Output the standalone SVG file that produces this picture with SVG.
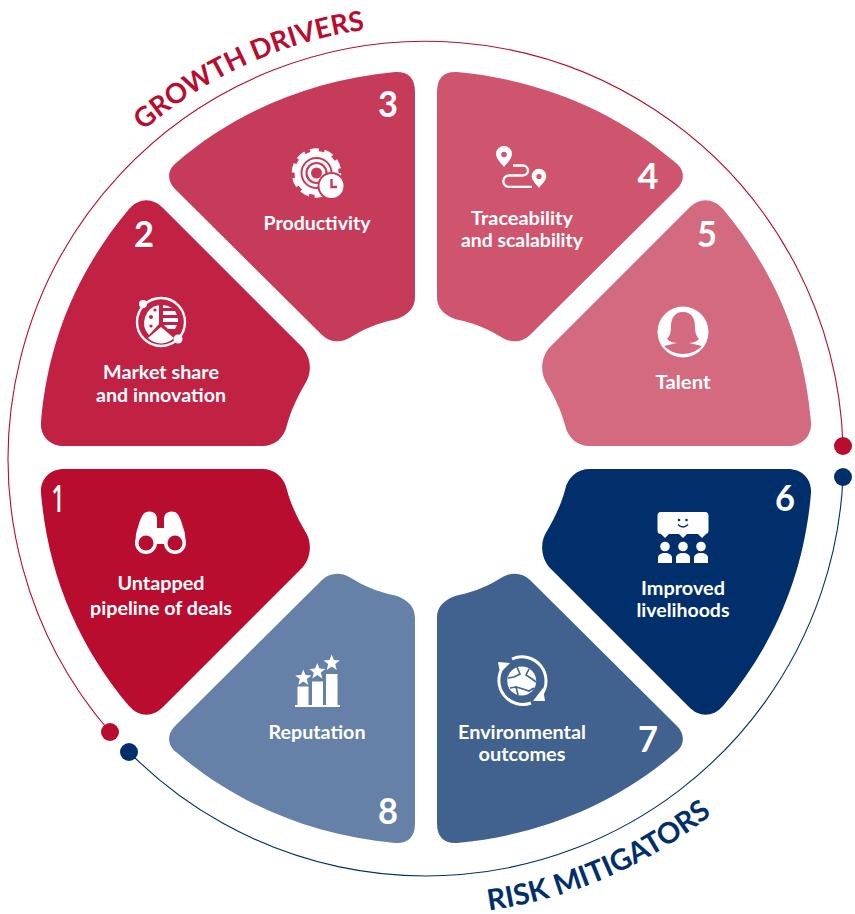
<svg xmlns="http://www.w3.org/2000/svg" xmlns:xlink="http://www.w3.org/1999/xlink" width="855" height="914" viewBox="0 0 855 914">
<style>
text{font-family:"Lato","Noto Sans",sans-serif;}
.lb{fill:#fff;font-size:18px;font-weight:700;text-anchor:middle;}
.nm{fill:#fff;font-size:37px;font-weight:700;text-anchor:middle;}
.w{fill:#fff;}
.ln{fill:none;stroke:#fff;}
.arcr{fill:none;stroke:#B80D2F;stroke-width:1.1;}
.arcb{fill:none;stroke:#002F6C;stroke-width:1.1;}
.h{font-weight:700;}
</style>
<defs>
<path id="tA" d="M395 72 Q415 71 415 92 L415 297 C415 310 405 317 393 320 C378 323 362 330 351 337 C342 343 330 343 322 335 L175 189 C167 181 167 170 176 163 C235 112 310 80 395 72 Z"/>
<path id="tB" d="M129 209 C140 197 153 198 163 208 L300 345 C311 355 313 372 305 384 C298 396 291 410 287 425 C284 438 275 446 262 446 L64 446 C50 446 40 436 41 422 C48 340 78 270 129 209 Z"/>
<path id="star" d="M0 -8.500 L2.200 -2.900 L8.100 -2.600 L3.500 1.100 L5 6.900 L0 3.600 L-5 6.900 L-3.500 1.100 L-8.100 -2.600 L-2.200 -2.900 Z"/>
<path id="pin" d="M0 12 C-2 9 -8 4 -8 -1 A8 8 0 0 1 8 -1 C8 4 2 9 0 12 Z"/>
<path id="bust" d="M-7 10 V5 C-7 1.500 -4 0 0 0 C4 0 7 1.500 7 5 V10 Z"/>
<path id="arcGD" d="M36.100 271.500 A432 432 0 0 1 541.400 41.200"/>
<path id="arcRM" d="M294.700 895.200 A456 456 0 0 0 834.300 662.800"/>
</defs>

<g id="connectors">
<path class="arcr" d="M110 732 A417.500 417.500 0 1 1 843 446"/>
<path class="arcb" d="M843 477 A417.500 417.500 0 0 1 129 752"/>
<circle cx="110" cy="732" r="9" fill="#B80D2F"/>
<circle cx="843" cy="446" r="9" fill="#B80D2F"/>
<circle cx="129" cy="752" r="9" fill="#002F6C"/>
<circle cx="843" cy="477" r="9" fill="#002F6C"/>
</g>

<g id="header-growth"><text class="h" font-size="27.500" fill="#B80D2F"><textPath href="#arcGD" startOffset="50%" text-anchor="middle">GROWTH DRIVERS</textPath></text></g>
<g id="header-risk"><text class="h" font-size="29" fill="#002F6C"><textPath href="#arcRM" startOffset="50%" text-anchor="middle">RISK MITIGATORS</textPath></text></g>

<g id="node-1">
<use href="#tB" fill="#B80D2F" transform="matrix(1 0 0 -1 0 915)"/>
<text class="nm" x="58" y="512" style="font-family:'Open Sans',sans-serif;font-size:38px;font-weight:600" textLength="13" lengthAdjust="spacingAndGlyphs">1</text>
<path class="w" d="M146 512 C152 510 157 513 157 519 V528 H164 V519 C164 513 169 510 175 512 C179 514 181 520 183 527 C185 532 186 538 185 544 L136 544 C135 538 136 532 138 527 C140 520 142 514 146 512 Z"/>
<circle class="w" cx="146" cy="543" r="11"/><circle class="w" cx="175" cy="543" r="11"/>
<rect class="w" x="155" y="530" width="11" height="9"/>
<circle cx="146" cy="543" r="7.500" fill="#B80D2F"/><circle cx="175" cy="543" r="7.500" fill="#B80D2F"/>
<text class="lb" x="161" y="590" textLength="87" lengthAdjust="spacingAndGlyphs">Untapped</text>
<text class="lb" x="161" y="615" textLength="142" lengthAdjust="spacingAndGlyphs">pipeline of deals</text>
</g>

<g id="node-2">
<use href="#tB" fill="#C12244"/>
<text class="nm" x="144" y="247" textLength="20" lengthAdjust="spacingAndGlyphs">2</text>
<circle class="ln" cx="161" cy="322" r="24" stroke-width="2.400"/>
<circle class="w" cx="143" cy="304" r="4"/><circle class="w" cx="178" cy="339" r="4.500"/>
<path class="w" d="M159 305 V324 L149 335 A18 18 0 0 1 159 305 Z"/>
<circle cx="151" cy="317" r="2" fill="#C12244"/><circle cx="155" cy="310" r="1.600" fill="#C12244"/><circle cx="151" cy="326" r="1.600" fill="#C12244"/>
<path class="w" d="M163 305 A18 18 0 0 1 172 308 H163 Z M163 311 H175 L177 315 H163 Z M163 318 H178 L178 322 H163 Z M164 325 H177 L175 329 H168 Z"/>
<path class="w" d="M161 327 L174 338 A18 18 0 0 1 148 338 Z"/>
<text class="lb" x="161" y="379" textLength="116" lengthAdjust="spacingAndGlyphs">Market share</text>
<text class="lb" x="161" y="402" textLength="130" lengthAdjust="spacingAndGlyphs">and innovation</text>
</g>

<g id="node-3">
<use href="#tA" fill="#C73B5A"/>
<text class="nm" x="388" y="117" textLength="20" lengthAdjust="spacingAndGlyphs">3</text>
<circle class="w" cx="316.500" cy="173" r="22"/>
<circle class="ln" cx="316.500" cy="173" r="23" stroke-width="3.500" stroke-dasharray="9 5.450"/>
<circle cx="316.500" cy="173" r="15" fill="none" stroke="#C73B5A" stroke-width="2"/>
<circle cx="316.500" cy="173" r="10" fill="none" stroke="#C73B5A" stroke-width="2.200"/>
<circle cx="316.500" cy="173" r="5.500" fill="#C73B5A"/>
<circle class="w" cx="331.500" cy="186" r="13" stroke="#C73B5A" stroke-width="2"/>
<path d="M331.500 179 V187 H337" fill="none" stroke="#C73B5A" stroke-width="2.400"/>
<text class="lb" x="317" y="230" textLength="107" lengthAdjust="spacingAndGlyphs">Productivity</text>
</g>

<g id="node-4">
<use href="#tA" fill="#CF546E" transform="matrix(-1 0 0 1 852 0)"/>
<text class="nm" x="648" y="189" textLength="21" lengthAdjust="spacingAndGlyphs">4</text>
<use class="w" href="#pin" transform="translate(504 155)"/>
<circle cx="504" cy="154.500" r="2.800" fill="#CF546E"/>
<use class="w" href="#pin" transform="translate(539 177) scale(.92)"/>
<circle cx="539" cy="176.500" r="2.600" fill="#CF546E"/>
<path class="ln" stroke-width="2.300" d="M513 165.500 H523 a5 5 0 0 1 0 10 H509 a5.700 5.700 0 0 0 0 11.400 H532"/>
<text class="lb" x="522" y="225" textLength="102" lengthAdjust="spacingAndGlyphs">Traceability</text>
<text class="lb" x="522" y="247" textLength="122" lengthAdjust="spacingAndGlyphs">and scalability</text>
</g>

<g id="node-5">
<use href="#tB" fill="#D46A80" transform="matrix(-1 0 0 1 852 0)"/>
<text class="nm" x="707" y="247" textLength="20" lengthAdjust="spacingAndGlyphs">5</text>
<circle class="w" cx="683" cy="332" r="25.500"/>
<path fill="#D46A80" d="M683 312 C674 312 671 319 671 327 C671 332 670 336 667 339 C670 342 674 343 677 343 L664 346 C669 351 676 354 683 354 C690 354 697 351 702 346 L689 343 C692 343 696 342 699 339 C696 336 695 332 695 327 C695 319 692 312 683 312 Z"/>
<text class="lb" x="683" y="389" textLength="55" lengthAdjust="spacingAndGlyphs">Talent</text>
</g>

<g id="node-6">
<use href="#tB" fill="#002F6C" transform="matrix(-1 0 0 -1 852 915)"/>
<text class="nm" x="785" y="511" textLength="20" lengthAdjust="spacingAndGlyphs">6</text>
<path class="w" d="M661 512 H705 a3.500 3.500 0 0 1 3.500 3.500 V530.500 a3.500 3.500 0 0 1 -3.500 3.500 H706 L702 538 L698 534 H687 L683 538 L679 534 H669 L665 538 L661 534 a3.500 3.500 0 0 1 -3.500 -3.500 V515.500 a3.500 3.500 0 0 1 3.500 -3.500 Z"/>
<circle cx="679" cy="520" r="1.300" fill="#002F6C"/><circle cx="686.500" cy="520" r="1.300" fill="#002F6C"/>
<path d="M678 524.500 Q683 529.500 688 524.500" fill="none" stroke="#002F6C" stroke-width="1.500"/>
<circle class="w" cx="665" cy="546.500" r="4.800"/><circle class="w" cx="683" cy="546.500" r="4.800"/><circle class="w" cx="701" cy="546.500" r="4.800"/>
<use class="w" href="#bust" transform="translate(665 553)"/><use class="w" href="#bust" transform="translate(683 553)"/><use class="w" href="#bust" transform="translate(701 553)"/>
<text class="lb" x="683" y="595" textLength="84" lengthAdjust="spacingAndGlyphs">Improved</text>
<text class="lb" x="683" y="617" textLength="93" lengthAdjust="spacingAndGlyphs">livelihoods</text>
</g>

<g id="node-7">
<use href="#tA" fill="#41628E" transform="matrix(-1 0 0 -1 852 915)"/>
<text class="nm" x="648" y="752" textLength="20" lengthAdjust="spacingAndGlyphs">7</text>
<path class="ln" stroke-width="3" d="M503 667 A24 24 0 0 0 531 703"/>
<path class="ln" stroke-width="3" d="M512 659 A24 24 0 0 1 541 695.500"/>
<path class="w" d="M498 662 L510 663 L500 673 Z M545 701 L533 701 L543 688 Z"/>
<circle class="w" cx="521.700" cy="681" r="14.500"/>
<path fill="none" stroke="#41628E" stroke-width="1.600" d="M517 667 L520 674 L514 677 L508 678 M529 669 L526 675 L532 679 L536 682 M518 695 L516 687 L523 689 L529 691 L534 688 M510 688 L516 687"/>
<text class="lb" x="522" y="739" textLength="128" lengthAdjust="spacingAndGlyphs">Environmental</text>
<text class="lb" x="522" y="761" textLength="87" lengthAdjust="spacingAndGlyphs">outcomes</text>
</g>

<g id="node-8">
<use href="#tA" fill="#6681A7" transform="matrix(1 0 0 -1 0 915)"/>
<text class="nm" x="388" y="824" textLength="20" lengthAdjust="spacingAndGlyphs">8</text>
<rect class="w" x="297.500" y="686.500" width="11" height="19"/><rect class="w" x="312" y="681.500" width="11" height="24"/><rect class="w" x="326" y="674" width="11.500" height="31.500"/>
<rect class="w" x="295" y="705" width="45" height="2"/>
<g fill="#fff" stroke="#6681A7" stroke-width="1.800" paint-order="stroke">
<use href="#star" transform="translate(303.300 678)"/><use href="#star" transform="translate(317.300 671.500)"/><use href="#star" transform="translate(331.700 663)"/>
</g>
<text class="lb" x="317" y="739" textLength="97" lengthAdjust="spacingAndGlyphs">Reputation</text>
</g>
</svg>
